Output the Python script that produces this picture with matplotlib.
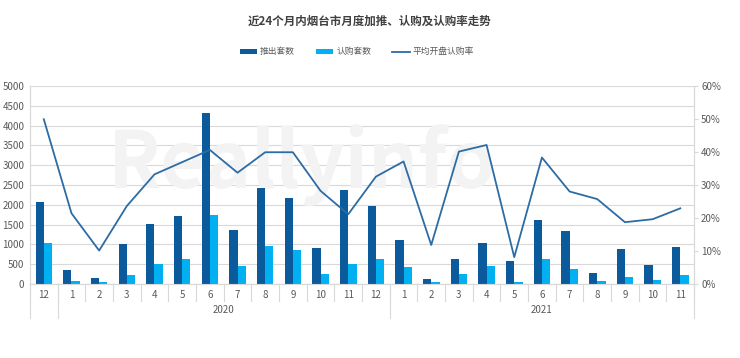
import matplotlib
matplotlib.use('Agg')
import matplotlib.pyplot as plt
import matplotlib.transforms as mtransforms
from matplotlib.ticker import FuncFormatter
import numpy as np

plt.rcParams['font.family'] = ['Noto Sans CJK SC', 'DejaVu Sans']

months = ['12', '1', '2', '3', '4', '5', '6', '7', '8', '9', '10', '11', '12',
          '1', '2', '3', '4', '5', '6', '7', '8', '9', '10', '11']
years = ['', '2020', '2021']
year_spans = [1, 12, 11]

pushed = [2080, 354, 143, 1002, 1524, 1718, 4311, 1364, 2417, 2172, 918, 2383, 1979,
          1120, 118, 632, 1036, 581, 1617, 1330, 269, 893, 480, 935]
sold = [1027, 76, 50, 227, 505, 632, 1735, 455, 960, 859, 253, 505, 632,
        421, 50, 253, 446, 50, 623, 370, 76, 168, 93, 219]
rate = [49.9, 21.4, 10.1, 23.6, 33.2, 36.9, 40.6, 33.7, 39.9, 39.9, 28.2, 21.1, 32.5,
        37.1, 11.8, 40.1, 42.1, 8.1, 38.3, 28.0, 25.7, 18.7, 19.6, 22.9]

c_dark = '#0b5a9b'
c_light = '#00b0f0'
c_line = '#2c6ca5'
c_grid = '#d9d9d9'
c_text = '#595959'

fig = plt.figure(figsize=(7.4, 3.58), dpi=100)
ax = fig.add_axes([0.0405, 0.207, 0.8975, 0.553])
ax2 = ax.twinx()

x = np.arange(len(months))
w = 0.3
ax.bar(x - w / 2, pushed, w, color=c_dark, label='推出套数', zorder=3)
ax.bar(x + w / 2, sold, w, color=c_light, label='认购套数', zorder=3)
ax2.plot(x, rate, color=c_line, lw=1.3, label='平均开盘认购率')

ax.set_xlim(-0.5, len(months) - 0.5)
ax.set_ylim(0, 5000)
ax.set_yticks(np.arange(0, 5001, 500))
ax2.set_ylim(0, 60)
ax2.set_yticks(np.arange(0, 61, 10))
ax2.yaxis.set_major_formatter(FuncFormatter(lambda v, p: f'{int(v)}%'))

ax.grid(axis='y', color=c_grid, lw=0.8, zorder=0)
ax.set_axisbelow(True)
for a in (ax, ax2):
    a.spines['top'].set_visible(False)
    a.spines['left'].set_color(c_grid)
    a.spines['right'].set_color(c_grid)
    a.spines['bottom'].set_color(c_grid)
ax.tick_params(axis='y', length=0, labelsize=7, labelcolor=c_text, pad=4)
ax2.tick_params(axis='y', length=3, color=c_grid, labelsize=7, labelcolor=c_text, pad=2)
ax.set_xticks([])

# watermark behind the bars
ax.text(0.41, 0.6, 'Reallyinfo', transform=ax.transAxes, fontsize=56, fontweight='bold',
        color='#f3f3f3', ha='center', va='center', zorder=1)

# multi-level category axis
trans = mtransforms.blended_transform_factory(ax.transData, ax.transAxes)
for i, m in enumerate(months):
    ax.text(i, -0.033, m, transform=trans, ha='center', va='top', fontsize=7, color=c_text)
for b in np.arange(-0.5, len(months) + 0.5):
    ax.plot([b, b], [0, -0.086], transform=trans, color=c_grid, lw=0.8, clip_on=False)
start = -0.5
for label, span in zip(years, year_spans):
    end = start + span
    ax.plot([start, start], [0, -0.17], transform=trans, color=c_grid, lw=0.8, clip_on=False)
    if label:
        ax.text((start + end) / 2, -0.106, label, transform=trans, ha='center', va='top',
                fontsize=7, color=c_text)
    start = end
ax.plot([start, start], [0, -0.17], transform=trans, color=c_grid, lw=0.8, clip_on=False)

fig.text(0.5, 0.94, '近24个月内烟台市月度加推、认购及认购率走势', ha='center', va='center',
         fontsize=8.3, fontweight='bold', color='#404040')

h1, l1 = ax.get_legend_handles_labels()
h2, l2 = ax2.get_legend_handles_labels()
fig.legend(h1 + h2, l1 + l2, loc='center', bbox_to_anchor=(0.482, 0.855), ncol=3,
           frameon=False, fontsize=6.3, handlelength=2.0, handleheight=0.55,
           handletextpad=0.3, columnspacing=2.4, labelcolor=c_text)

fig.savefig('out.png', dpi=100)
